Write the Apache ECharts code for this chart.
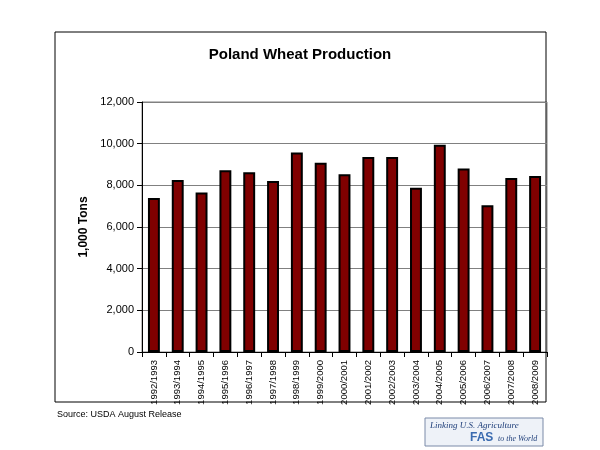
<!DOCTYPE html>
<html>
<head>
<meta charset="utf-8">
<script src="https://cdn.jsdelivr.net/npm/echarts@6/dist/echarts.min.js"></script>
<style>html,body{margin:0;padding:0;background:#fff}#chart{width:600px;height:450px}</style>
</head>
<body>
<div id="chart"></div>
<script>
var years = ['1992/1993','1993/1994','1994/1995','1995/1996','1996/1997','1997/1998','1998/1999','1999/2000','2000/2001','2001/2002','2002/2003','2003/2004','2004/2005','2005/2006','2006/2007','2007/2008','2008/2009'];
var production = [7395, 8260, 7660, 8730, 8630, 8210, 9575, 9090, 8535, 9365, 9365, 7885, 9950, 8810, 7040, 8355, 8450];

var chart = echarts.init(document.getElementById('chart'));
chart.setOption({
    animation: false,
    title: {
        text: 'Poland Wheat Production',
        left: 'center', top: 42,
        textStyle: { fontFamily: 'Arial', fontSize: 15, fontWeight: 'bold', color: '#000' }
    },
    graphic: [
        { type: 'rect', shape: { x: 55, y: 32, width: 491, height: 370 }, style: { fill: 'none', stroke: '#000', lineWidth: 1 } },
        { type: 'text', left: 57, top: 410, style: { text: 'Source: USDA August Release', font: '9px Arial', fill: '#000' } },
        { type: 'rect', shape: { x: 425, y: 418, width: 118, height: 28 }, style: { fill: '#eef2f8', stroke: '#7a8aa8', lineWidth: 1 } },
        { type: 'text', left: 430, top: 421, style: { text: 'Linking U.S. Agriculture', font: 'italic 9px "Liberation Serif"', fill: '#1f3f7a' } },
        { type: 'text', left: 470, top: 432, style: { text: 'FAS', font: 'bold 12px Arial', fill: '#3a6bb0' } },
        { type: 'text', left: 498, top: 435, style: { text: 'to the World', font: 'italic 8px "Liberation Serif"', fill: '#1f3f7a' } }
    ],
    grid: { left: 142, right: 53, top: 102, bottom: 98, show: true, borderColor: '#808080', borderWidth: 1 },
    xAxis: {
        type: 'category', data: years,
        axisLine: { lineStyle: { color: '#000' } },
        axisTick: { show: true, lineStyle: { color: '#000' } },
        axisLabel: { rotate: 90, interval: 0, fontFamily: 'Arial', fontSize: 9.5, color: '#000' }
    },
    yAxis: {
        type: 'value', min: 0, max: 12000, interval: 2000,
        name: '1,000 Tons', nameLocation: 'middle', nameGap: 50,
        nameTextStyle: { fontFamily: 'Arial', fontSize: 12, fontWeight: 'bold', color: '#000' },
        axisLine: { show: true, lineStyle: { color: '#000' } },
        axisTick: { show: true, lineStyle: { color: '#000' } },
        axisLabel: { fontFamily: 'Arial', fontSize: 11, color: '#000', formatter: function (v) { return v.toLocaleString('en-US'); } },
        splitLine: { lineStyle: { color: '#808080' } }
    },
    series: [{
        type: 'bar', data: production, barWidth: '50%',
        itemStyle: { color: '#800000', borderColor: '#000', borderWidth: 2 }
    }]
});
</script>
</body>
</html>
